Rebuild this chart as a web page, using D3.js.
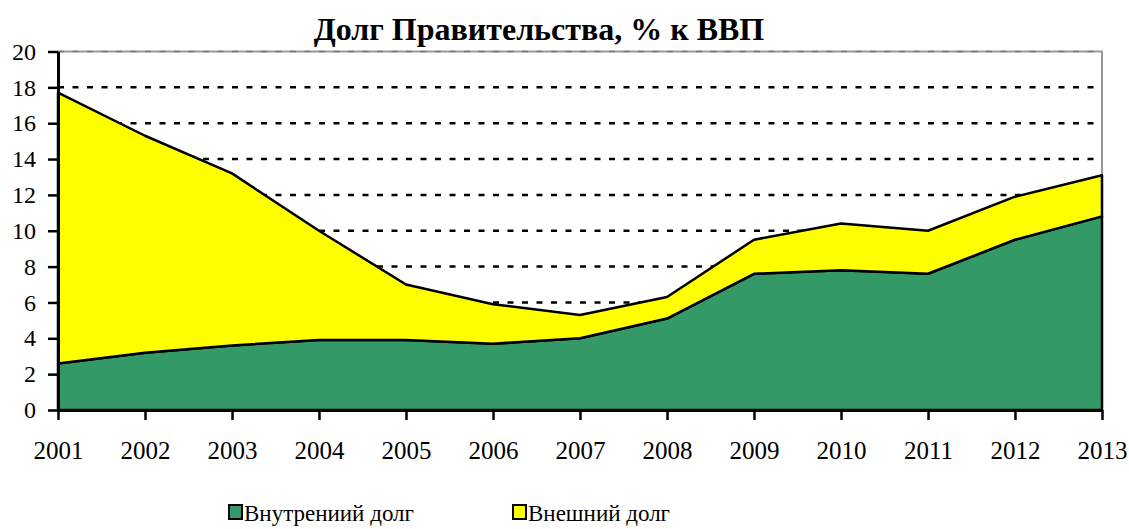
<!DOCTYPE html>
<html>
<head>
<meta charset="utf-8">
<script src="https://cdn.jsdelivr.net/npm/d3@7"></script>
<style>
  body { margin: 0; background: #fff; }
  svg text { font-family: "Times New Roman", "Liberation Serif", serif !important; fill: #000; }
</style>
</head>
<body>
<svg id="chart" width="1129" height="529"></svg>
<script>
const years = [2001, 2002, 2003, 2004, 2005, 2006, 2007, 2008, 2009, 2010, 2011, 2012, 2013]
const domestic = [2.6, 3.2, 3.6, 3.9, 3.9, 3.7, 4.0, 5.1, 7.6, 7.8, 7.6, 9.5, 10.8]
const external = [15.1, 12.1, 9.6, 6.1, 3.1, 2.2, 1.3, 1.2, 1.9, 2.6, 2.4, 2.4, 2.3]
const seriesNames = ["Внутрениий долг", "Внешний долг"]
const yTicks = [0, 2, 4, 6, 8, 10, 12, 14, 16, 18, 20]
const colors = ["#339966", "#ffff00"]
const serif = "'Liberation Serif', 'Times New Roman', serif"

const svg = d3.select("#chart")
const plotLeft = 58, plotRight = 1102, plotTop = 51.5, plotBottom = 410

const x = d3.scalePoint().domain(years).range([plotLeft, plotRight])
const y = d3.scaleLinear().domain([0, 20]).range([plotBottom, plotTop])

const rows = years.map((yr, i) => ({ year: yr, d: domestic[i], e: external[i] }))
const stacked = d3.stack().keys(["d", "e"])(rows)

// title
svg.append("text")
    .attr("x", 539)
    .attr("y", 40)
    .attr("text-anchor", "middle")
    .style("font-family", serif)
    .style("font-size", "32px")
    .style("font-weight", "bold")
    .text("Долг Правительства, % к ВВП")

// plot border (top / right)
svg.append("path")
    .attr("d", `M${plotLeft},${y(20)}H${plotRight}V${plotBottom}`)
    .attr("fill", "none")
    .attr("stroke", "#999")
    .attr("stroke-width", 2)

// grid
svg.append("g")
    .selectAll("line")
    .data(yTicks.filter(t => t > 0))
    .join("line")
    .attr("x1", plotLeft)
    .attr("x2", plotRight)
    .attr("y1", d => y(d))
    .attr("y2", d => y(d))
    .attr("stroke", d => d === 20 ? "#777" : "#000")
    .attr("stroke-width", d => d === 20 ? 1.5 : 2.5)
    .attr("stroke-dasharray", "6,8.5")

const area = d3.area()
    .x(d => x(d.data.year))
    .y0(d => y(d[0]))
    .y1(d => y(d[1]))

svg.append("g")
    .selectAll("path")
    .data(stacked)
    .join("path")
    .attr("d", area)
    .attr("fill", (d, i) => colors[i])
    .attr("stroke", "#000")
    .attr("stroke-width", 2.5)
    .attr("stroke-linejoin", "round")

// y axis
const yAxis = svg.append("g")
    .attr("transform", `translate(${plotLeft},0)`)
    .call(d3.axisLeft(y).tickValues(yTicks).tickSize(10).tickPadding(12).tickSizeOuter(0))
yAxis.attr("font-family", null).attr("font-size", null)
yAxis.select(".domain").attr("stroke-width", 3)
yAxis.selectAll(".tick line").attr("stroke-width", 2.5)
yAxis.selectAll("text")
    .style("font-family", serif)
    .style("font-size", "24px")

// x axis
const xAxis = svg.append("g")
    .attr("transform", `translate(0,${plotBottom})`)
    .call(d3.axisBottom(x).tickSize(10).tickSizeOuter(0))
xAxis.attr("font-family", null).attr("font-size", null)
xAxis.select(".domain").attr("stroke-width", 3)
xAxis.selectAll(".tick line").attr("stroke-width", 2.5)
xAxis.selectAll("text")
    .attr("y", 49)
    .attr("dy", null)
    .style("font-family", serif)
    .style("font-size", "25px")

// legend
const legendX = [229, 513]
const legend = svg.append("g")
    .selectAll("g")
    .data(seriesNames)
    .join("g")
    .attr("transform", (d, i) => `translate(${legendX[i]},505)`)
legend.append("rect")
    .attr("width", 13)
    .attr("height", 14)
    .attr("fill", (d, i) => colors[i])
    .attr("stroke", "#000")
    .attr("stroke-width", 2)
legend.append("text")
    .attr("x", 15)
    .attr("y", 16)
    .style("font-family", serif)
    .style("font-size", "23px")
    .text(d => d)
</script>
</body>
</html>
